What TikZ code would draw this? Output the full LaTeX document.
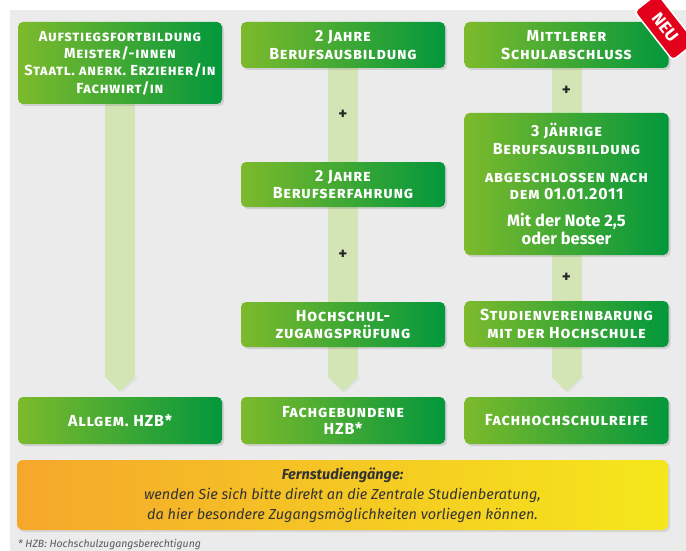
\documentclass[tikz,border=0pt]{standalone}
\usepackage{fontspec}
\setsansfont{Fira Sans}
\renewcommand{\familydefault}{\sfdefault}
\newfontfamily\capsfont{Fira Sans}[Letters=SmallCaps,LetterSpace=5]
\newcommand{\notefont}{\normalfont\bfseries\fontsize{16.5}{15.5}\selectfont}
\usetikzlibrary{arrows.meta,shadows}
\frenchspacing

\definecolor{boxlight}{HTML}{7DBA2C}
\definecolor{boxdark}{HTML}{03973C}
\definecolor{barcol}{HTML}{D3E5B4}
\definecolor{pagegray}{HTML}{EBEBEB}
\definecolor{warnleft}{HTML}{F5A72C}
\definecolor{warnright}{HTML}{F5E71B}
\definecolor{neured}{HTML}{E2001A}

\pgfdeclarelayer{back}
\pgfdeclarelayer{bars}
\pgfsetlayers{back,bars,main}

\begin{document}
\begin{tikzpicture}[x=1pt,y=-1pt,
  greenbox/.style={shape=rectangle,rounded corners=5pt,left color=boxlight,right color=boxdark,
    minimum width=204pt,inner sep=0pt,align=center,text=white,
    font=\capsfont\bfseries\fontsize{16}{17.3}\selectfont,
    drop shadow={opacity=0.25,shadow xshift=2pt,shadow yshift=-2pt}},
  bar/.style={line width=30pt,draw=barcol,
    preaction={draw=black!12,transform canvas={xshift=3pt}}},
  tipbar/.style={bar,-{Triangle[width=30pt,length=15pt,line width=0pt]}},
  plus/.style={font=\bfseries\fontsize{17}{17}\selectfont,text=black!85}]

  \useasboundingbox (0,0) rectangle (686,551);
  \begin{pgfonlayer}{back}
    \fill[pagegray] (10,10) rectangle (686,551);
  \end{pgfonlayer}

  % first column
  \node[greenbox,minimum height=82pt,font=\capsfont\bfseries\fontsize{14.6}{17.3}\selectfont] (aufstieg) at (120,63)
    {Aufstiegsfortbildung\\Meister/-innen\\Staatl. anerk. Erzieher/in\\Fachwirt/in};
  \node[greenbox,minimum height=47pt] (allgem) at (120,420.5) {Allgem. HZB*};

  % second column
  \node[greenbox,minimum height=46pt] (ausbzwei) at (343,45) {2 Jahre\\Berufsausbildung};
  \node[greenbox,minimum height=45pt] (erfahrung) at (343,184.5) {2 Jahre\\Berufserfahrung};
  \node[greenbox,minimum height=45pt] (pruefung) at (343,324.5) {Hochschul-\\zugangsprüfung};
  \node[greenbox,minimum height=47pt] (fachgeb) at (343,420.5) {Fachgebundene\\HZB*};

  % third column
  \node[greenbox,minimum height=142pt] (ausbdrei) at (566.5,184)
    {3 jährige\\Berufsausbildung\\[11pt]abgeschlossen nach\\dem 01.01.2011\\[10pt]
     \notefont Mit der Note 2,5\\\notefont oder besser};
  \node[greenbox,minimum height=46pt] (vereinb) at (566.5,324) {Studienvereinbarung\\mit der Hochschule};
  \node[greenbox,minimum height=47pt] (fhreife) at (566.5,420.5) {Fachhochschulreife};
  \node[greenbox,minimum height=46pt] (mittlerer) at (566.5,45) {Mittlerer\\Schulabschluss};

  \node[shape=rectangle,rounded corners=4pt,fill=neured,draw=white,line width=1.5pt,
    rotate=-52,minimum width=62pt,minimum height=29pt,inner sep=0pt,text=white,
    font=\bfseries\fontsize{17}{17}\selectfont] (neu) at (665,27) {NEU};

  \begin{pgfonlayer}{bars}
    \draw[tipbar] (aufstieg.south) -- ([yshift=5pt]allgem.north);
    \draw[bar] (ausbzwei.south) -- node[plus] (plusa) {+} (erfahrung.north);
    \draw[bar] (erfahrung.south) -- node[plus] (plusb) {+} (pruefung.north);
    \draw[tipbar] (pruefung.south) -- ([yshift=5pt]fachgeb.north);
    \draw[bar] (mittlerer.south) -- node[plus] (plusc) {+} (ausbdrei.north);
    \draw[bar] (ausbdrei.south) -- node[plus] (plusd) {+} (vereinb.north);
    \draw[tipbar] (vereinb.south) -- ([yshift=5pt]fhreife.north);
  \end{pgfonlayer}

  \node[shape=rectangle,rounded corners=6pt,left color=warnleft,right color=warnright,
    minimum width=651pt,minimum height=70pt,align=center,text=black!80,
    font=\itshape\fontsize{14.5}{20}\selectfont,
    drop shadow={opacity=0.2,shadow xshift=2pt,shadow yshift=-2pt}] (fernstudium) at (342.5,495)
    {{\bfseries Fernstudiengänge:}\\wenden Sie sich bitte direkt an die Zentrale Studienberatung,\\
     da hier besondere Zugangsmöglichkeiten vorliegen können.};

  \node[anchor=base west,inner sep=0pt,text=black!65,font=\itshape\fontsize{10.5}{11}\selectfont]
    (fussnote) at (18,547) {* HZB: Hochschulzugangsberechtigung};
\end{tikzpicture}
\end{document}
